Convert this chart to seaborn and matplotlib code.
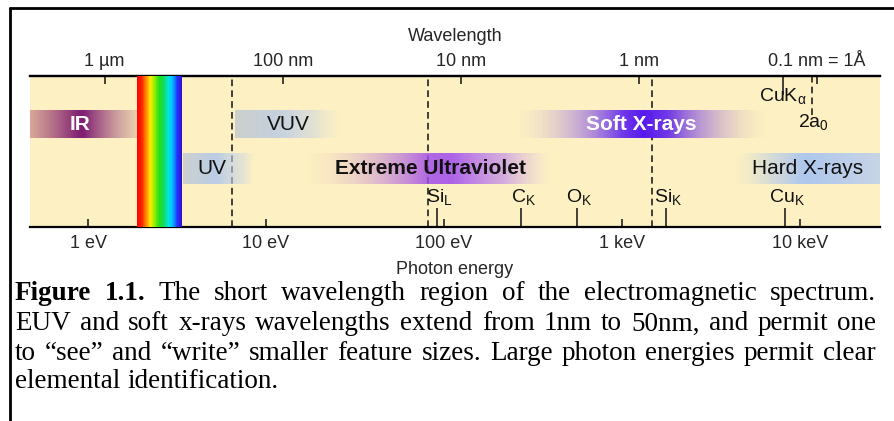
import numpy as np
import matplotlib
matplotlib.use('Agg')
import matplotlib.pyplot as plt
import seaborn as sns
from matplotlib.ticker import FixedLocator, NullFormatter
from matplotlib.lines import Line2D

# ---- values ----
energy_ticks = [1, 10, 100, 1000, 10000]
energy_labels = ['1 eV', '10 eV', '100 eV', '1 keV', '10 keV']
wl_ticks = [1000, 100, 10, 1, 0.1]
wl_labels = ['1 µm', '100 nm', '10 nm', '1 nm', '0.1 nm = 1Å']

edge_labels = [r'Si$_\mathregular{L}$', r'C$_\mathregular{K}$', r'O$_\mathregular{K}$',
               r'Si$_\mathregular{K}$', r'Cu$_\mathregular{K}$']
edge_energy = [91, 271, 559, 1770, 8240]

boundary_energy = [6.4, 81, 1475]

band_names = ['IR', 'VUV', 'UV', 'Extreme Ultraviolet', 'Soft X-rays', 'Hard X-rays']
band_start = [0.472, 6.7, 3.42, 16.6, 261, 4315]
band_end = [1.885, 26.7, 8.67, 394, 6610, 28130]
band_row = [1, 1, 0, 0, 1, 0]
band_label_at = [0.9, 13.3, 4.97, 83.5, 1279, 11090]

visible_start, visible_end = 1.88, 3.37
cuka_nm = 0.154
two_a0_nm = 0.106

caption_lines = [
    'Figure 1.1. The short wavelength region of the electromagnetic spectrum.',
    'EUV and soft x-rays wavelengths extend from 1nm to 50nm, and permit one',
    'to \u201csee\u201d and \u201cwrite\u201d smaller feature sizes. Large photon energies permit clear',
    'elemental identification.',
]

HC = 1239.84  # eV nm

sns.set_theme(style='white')
plt.rcParams['font.family'] = ['Liberation Sans', 'DejaVu Sans']

W, H = 894, 421
fig = plt.figure(figsize=(W / 100, H / 100), dpi=100)
fig.patch.set_facecolor('white')

ax = fig.add_axes([30 / W, 1 - 227 / H, 850 / W, 151 / H])
ax.set_facecolor('#FDF0C2')
ax.set_xscale('log')
ax.set_xlim(0.472, 28130)
ax.set_ylim(0, 1)
ax.set_yticks([])
for s in ['left', 'right']:
    ax.spines[s].set_visible(False)
for s in ['top', 'bottom']:
    ax.spines[s].set_color('black')
    ax.spines[s].set_linewidth(1.6)

# dashed boundaries
for e in boundary_energy:
    ax.axvline(e, color='#222222', lw=1.2, ls=(0, (4, 2.5)), zorder=2)
ax.axvline(HC / two_a0_nm, ymin=0.742, ymax=1, color='#222222', lw=1.2,
           ls=(0, (4, 2.5)), zorder=2)

# visible rainbow
rainbow = sns.blend_palette(['#FF0000', '#FF2200', '#FF8800', '#FFEE00', '#88EE00',
                             '#22DD22', '#11DD55', '#00E5E5', '#00BBFF', '#2233FF',
                             '#3311CC'], as_cmap=True)
xe = np.geomspace(visible_start, visible_end, 80)
ax.pcolormesh(xe, [0, 1], np.linspace(0, 1, 79)[None, :], cmap=rainbow,
              shading='flat', zorder=3)

# gradient bands
band_colors = [['#C98F8A', '#7B1670', '#D9B49E'],
               ['#B8C2D2', '#AFC6EE', '#D8DCE0'],
               ['#B8C4D6', '#AFC6EE', '#D5DCE4'],
               ['#E8C8B8', '#A24DE8', '#D9B8E8'],
               ['#D9C0D8', '#5212F0', '#E8D0C0'],
               ['#D8DCD8', '#A5C2F2', '#B9CDEE']]
band_alpha = [[(0, 0.75), (0.45, 1.0), (1, 0.55)],
              [(0, 0.7), (0.35, 0.75), (0.75, 0.45), (1, 0.0)],
              [(0, 0.7), (0.45, 0.85), (0.85, 0.45), (1, 0.0)],
              [(0, 0.0), (0.3, 0.5), (0.6, 1.0), (0.82, 0.7), (1, 0.0)],
              [(0, 0.0), (0.25, 0.55), (0.42, 0.95), (0.6, 1.0), (0.8, 0.5), (1, 0.0)],
              [(0, 0.0), (0.25, 0.65), (0.45, 0.9), (1, 0.8)]]
rows_y = {1: (0.589, 0.775), 0: (0.285, 0.490)}
n = 160
for i, name in enumerate(band_names):
    xe = np.geomspace(band_start[i], band_end[i], n + 1)
    f = np.linspace(0, 1, n)
    cols = np.array(sns.blend_palette(band_colors[i], n_colors=n))
    stops = np.array(band_alpha[i])
    a = np.interp(f, stops[:, 0], stops[:, 1])
    rgba = np.concatenate([cols[:, :3], a[:, None]], axis=1)[None, :, :]
    ax.pcolormesh(xe, list(rows_y[band_row[i]]), rgba, shading='flat', zorder=4)

label_style = {
    'IR': dict(color='white', weight='bold'),
    'VUV': dict(color='#111111'),
    'UV': dict(color='#111111'),
    'Extreme Ultraviolet': dict(color='#111111', weight='bold'),
    'Soft X-rays': dict(color='white', weight='bold'),
    'Hard X-rays': dict(color='#111111'),
}
for i, name in enumerate(band_names):
    y0, y1 = rows_y[band_row[i]]
    ax.text(band_label_at[i], (y0 + y1) / 2, name, ha='center', va='center',
            fontsize=15, zorder=6, **label_style[name])

# element edges
for e, lab in zip(edge_energy, edge_labels):
    ax.text(e * 1.03, 0.19, lab, ha='center', va='center', fontsize=14,
            color='#111111', zorder=6)
ax.text(HC / cuka_nm, 0.86, r'CuK$_\mathregular{α}$', ha='center', va='center',
        fontsize=14, color='#111111', zorder=6)
ax.text(HC / two_a0_nm * 1.02, 0.69, r'2a$_\mathregular{0}$', ha='center', va='center',
        fontsize=14, color='#111111', zorder=6)

# bottom axis (photon energy)
ax.xaxis.set_major_locator(FixedLocator(energy_ticks))
ax.set_xticklabels(energy_labels)
ax.xaxis.set_minor_locator(FixedLocator(edge_energy))
ax.xaxis.set_minor_formatter(NullFormatter())
ax.tick_params(axis='x', which='major', direction='in', length=6, width=1.2,
               color='#222222', labelsize=13, pad=6, bottom=True)
ax.tick_params(axis='x', which='minor', direction='in', length=14, width=1.2,
               color='#222222', bottom=True)
ax.set_xlabel('Photon energy', fontsize=13, labelpad=6)

# top axis (wavelength)
sec = ax.secondary_xaxis('top', functions=(lambda e: HC / e, lambda l: HC / l))
sec.xaxis.set_major_locator(FixedLocator(wl_ticks))
sec.set_xticklabels(wl_labels)
sec.xaxis.set_minor_locator(FixedLocator([cuka_nm]))
sec.xaxis.set_minor_formatter(NullFormatter())
sec.tick_params(axis='x', which='major', direction='in', length=6, width=1.2,
                color='#222222', labelsize=13, pad=4, top=True)
sec.tick_params(axis='x', which='minor', direction='in', length=14, width=1.2,
                color='#222222', top=True)
sec.spines['top'].set_linewidth(1.6)
sec.set_xlabel('Wavelength', fontsize=13, labelpad=9)

# frame of the figure panel
fig.add_artist(Line2D([10 / W, 1], [1 - 8 / H, 1 - 8 / H], transform=fig.transFigure,
                      color='black', lw=2))
fig.add_artist(Line2D([10 / W, 10 / W], [0, 1 - 8 / H], transform=fig.transFigure,
                      color='black', lw=2))

# justified caption
renderer = fig.canvas.get_renderer()
cap_x0, cap_x1 = 15, 876
cap_y = [294, 324, 353, 382]
cap_kw = dict(family=['Liberation Serif', 'DejaVu Serif'], fontsize=19.5, color='black',
              va='center', ha='left')
space_w = None
for li, (line, yy) in enumerate(zip(caption_lines, cap_y)):
    words = line.split(' ')
    texts = []
    for wi, w in enumerate(words):
        bold = (li == 0 and wi < 2)
        t = fig.text(0, 1 - yy / H, w, weight='bold' if bold else 'normal', **cap_kw)
        texts.append(t)
    widths = [t.get_window_extent(renderer).width for t in texts]
    if space_w is None:
        a = fig.text(0, 0, 'a a', **cap_kw)
        b = fig.text(0, 0, 'aa', **cap_kw)
        space_w = a.get_window_extent(renderer).width - b.get_window_extent(renderer).width
        a.remove()
        b.remove()
    if li < len(caption_lines) - 1:
        gap = max((cap_x1 - cap_x0 - sum(widths)) / (len(words) - 1), space_w * 0.6)
    else:
        gap = space_w
    x = cap_x0
    for t, w in zip(texts, widths):
        t.set_x(x / W)
        x += w + gap

fig.savefig('out.png', dpi=100)
